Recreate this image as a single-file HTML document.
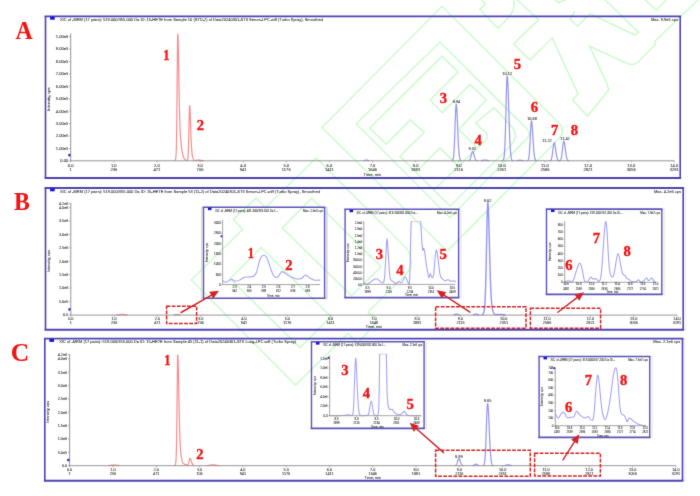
<!DOCTYPE html>
<html lang="en"><head><meta charset="utf-8"><title>XIC chromatograms A-C</title>
<style>html,body{margin:0;padding:0;background:#fff;}body{width:700px;height:496px;overflow:hidden;}svg{display:block;}text{white-space:pre;text-anchor:middle;}.s{font-family:"Liberation Sans",sans-serif;fill:#262626;stroke:#222;stroke-width:0.05px;}.b{font-family:"Liberation Serif",serif;font-weight:bold;fill:#f21313;stroke:#f21313;stroke-width:0.4px;}.st{text-anchor:start;}.en{text-anchor:end;}</style>
</head><body>
<svg width="700" height="496" viewBox="0 0 700 496" role="img" aria-label="XIC chromatograms, panels A, B and C">
<defs><filter id="soft" x="0" y="0" width="700" height="496" filterUnits="userSpaceOnUse" color-interpolation-filters="sRGB"><feConvolveMatrix order="3" kernelMatrix="0.02 0.065 0.02 0.065 0.66 0.065 0.02 0.065 0.02" divisor="1" edgeMode="duplicate" preserveAlpha="true"/></filter></defs>
<g filter="url(#soft)">
<rect x="0" y="0" width="700" height="496" fill="#ffffff"/>
<g fill="none" stroke="#cffacf" stroke-width="1.6" stroke-linejoin="miter" stroke-linecap="butt">
<path d="M447,251 L322,127.5 L442,6.3 L558.5,122.8 Q566.5,131 558.5,139.2 Z"/>
<path d="M450,217.7 L356.2,123.8 L440,42 L527,129 Q531.5,133.7 527,138.4 Z"/>
<polyline points="476.5,147 458.6,129.4 486.3,100 470,84.4 442.4,112.6 430,100 458,72 442,56.2 369.6,128.2 386.2,144.1 410.2,119.9 424.3,132.3 400,156.3 450,206.2"/>
<path d="M450,206.2 L509,147.2 Q519.5,136.5 512.5,127.5 L494.1,107.6 L475.6,123.2 L485.5,132.4 Q489.5,136.2 485.7,140.2 L433.8,190"/>
<polyline points="457.9,165.9 440,148 415.8,172.2"/>
<path d="M316.1,158 L265.5,207.5 L256,198.2 L233.4,219.4 L242.5,229.5 L191.3,280 L295.5,385 L347.9,333.6 L358,343 L377.3,321.2 L368,311.9 L405.5,275 Q416.5,263 406.5,248.4 Z"/>
<path d="M311.8,198.2 L381,266.8 L351.5,295.7 L282.1,227.9 Z"/>
<path d="M261.3,247.5 L330.9,316.7 L300,347.6 L230,278.8 Z"/>
<path d="M482,0 L485.4,4.3 L479.8,9.4 L498,28.3 L509,17 Q516,8 513.7,0"/>
<polyline points="517.1,0 538.6,19.7 513.7,43.7 530,60 552.2,37.8 578,93.8 572.5,100 587.5,116.2 608.7,90 607,83.8 589.5,46.2 625,62.5"/>
<path d="M625,62.5 Q632.5,66.5 637.5,62.5 L655,45 L655,41.2 L700,-2"/>
<polyline points="575,11.2 570,18.8 577.5,26.2 590,13.8 635,35 638.7,32.5 605,0"/>
<polyline points="645,0 656.2,10 666.2,0"/>
<polyline points="555,0 558.7,2.5 565,0"/>
</g>
<polyline points="174.97,160.56 175.22,160.27 175.47,159.67 175.72,158.51 175.75,158.31 175.97,156.24 176.22,151.75 176.35,147.88 176.47,142.92 176.72,126.91 176.95,104.43 176.97,102.16 177.22,71.89 177.47,45.46 177.55,39.75 177.7,34.26 177.72,34.04 177.97,35.62 178,36.34 178.15,41.12 178.22,43.93 178.47,56.24 178.72,70.67 178.75,72.46 178.97,85.39 179.22,98.94 179.35,105.23 179.47,110.5 179.72,119.78 179.95,126.46 179.97,126.96 180.22,132.43 180.47,136.65 180.55,137.79 180.72,139.98 180.97,142.74 181.15,144.47 181.22,145.09 181.47,147.16 181.72,148.99 181.75,149.2 181.97,150.63 182.22,152.09 182.35,152.79 182.47,153.39 182.5,153.54 182.72,154.53 182.95,155.44 182.97,155.51 183.22,156.34 183.47,157.05 183.55,157.25 183.72,157.64 183.97,158.13 184.15,158.44 184.22,158.55 184.47,158.89 184.72,159.18 184.75,159.22 184.97,159.43 185.22,159.64 185.35,159.73 185.47,159.81 185.53,159.85 185.72,159.96 185.78,160 185.95,160.08 185.97,160.09 186.03,160.12 186.22,160.19 186.28,160.21 186.47,160.27 186.53,160.28 186.55,160.28 186.72,160.29 186.78,160.29 186.9,160.27 186.97,160.25 187.03,160.22 187.15,160.14 187.22,160.07 187.28,159.99 187.4,159.8 187.47,159.64 187.53,159.48 187.65,159.07 187.72,158.75 187.75,158.6 187.78,158.43 187.9,157.6 187.97,156.98 188.03,156.35 188.15,154.77 188.22,153.62 188.28,152.47 188.35,150.93 188.4,149.68 188.53,145.84 188.65,141.51 188.78,136.02 188.9,130.39 188.95,127.95 189,125.49 189.03,124.02 189.15,118.3 189.28,112.82 189.4,108.89 189.53,106.32 189.55,106.09 189.6,105.75 189.65,105.65 189.78,106.13 189.8,106.3 189.9,107.47 190.03,109.66 190.15,112.27 190.2,113.49 190.28,115.59 190.4,118.97 190.53,122.83 190.65,126.44 190.75,129.41 190.78,130.28 190.8,130.86 190.9,133.67 191.03,137.09 191.15,139.98 191.28,142.8 191.35,144.17 191.4,145.1 191.53,147.28 191.65,149.04 191.78,150.68 191.9,151.99 191.95,152.48 192,152.94 192.03,153.21 192.15,154.19 192.28,155.1 192.4,155.84 192.53,156.53 192.55,156.63 192.6,156.87 192.65,157.1 192.78,157.63 192.9,158.06 193.03,158.47 193.15,158.8 193.2,158.93 193.28,159.11 193.4,159.36 193.53,159.59 193.65,159.77 193.75,159.9 193.78,159.93 193.8,159.96 194.03,160.17 194.28,160.33 194.4,160.38 194.53,160.42 194.78,160.47 195,160.48 195.03,160.48 195.28,160.47 195.53,160.44 195.6,160.43 195.78,160.41 196.03,160.36 196.2,160.33 196.28,160.31 196.53,160.26 196.78,160.22 196.8,160.21 197.4,160.13 198,160.1 198.6,160.11 199.2,160.15 199.8,160.22 200.4,160.29 201,160.38 201.6,160.46 202.2,160.54 202.8,160.61 203.4,160.66" fill="none" stroke="#f88c8c" stroke-width="1.2" stroke-linejoin="round" stroke-linecap="round" />
<polyline points="363.95,160.63 364.55,160.5 365.15,160.33 365.75,160.18 366.35,160.1 366.5,160.1 366.95,160.13 367.55,160.25 368.15,160.42 368.75,160.57" fill="none" stroke="#9494f2" stroke-width="1.2" stroke-linejoin="round" stroke-linecap="round" />
<polyline points="452.27,160.64 452.52,160.46 452.77,160.14 453.02,159.56 453.27,158.6 453.52,157.05 453.77,154.73 454.02,151.41 454.27,146.96 454.52,141.33 454.77,134.68 455.02,127.37 455.27,119.99 455.52,113.28 455.77,108.02 456.02,104.89 456.2,104.2 456.27,104.27 456.52,105.66 456.77,108.7 457.02,113.12 457.27,118.54 457.52,124.51 457.77,130.62 458.02,136.49 458.27,141.83 458.52,146.46 458.77,150.3 459.02,153.36 459.27,155.69 459.52,157.4 459.77,158.61 460.02,159.43 460.27,159.97 460.52,160.32 460.77,160.53 461.02,160.65" fill="none" stroke="#9494f2" stroke-width="1.2" stroke-linejoin="round" stroke-linecap="round" />
<polyline points="469,160.6 469.25,160.46 469.5,160.25 469.75,159.95 470,159.53 470.25,158.97 470.5,158.25 470.75,157.39 471,156.39 471.25,155.32 471.5,154.23 471.75,153.21 472,152.35 472.25,151.73 472.5,151.43 472.6,151.4 472.75,151.45 473,151.73 473.25,152.24 473.5,152.95 473.75,153.79 474,154.72 474.25,155.67 474.5,156.59 474.75,157.43 475,158.19 475.25,158.83 475.5,159.35 475.75,159.76 476,160.08 476.25,160.31 476.5,160.48 476.6,160.53 476.75,160.6 477,160.67" fill="none" stroke="#9494f2" stroke-width="1.2" stroke-linejoin="round" stroke-linecap="round" />
<polyline points="481.4,160.64 482,160.54 482.6,160.41 483.2,160.27 483.8,160.13 484.4,160.04 485,160 485.6,160.04 486.2,160.13 486.8,160.27 487.4,160.41 488,160.54 488.6,160.64" fill="none" stroke="#9494f2" stroke-width="1.2" stroke-linejoin="round" stroke-linecap="round" />
<polyline points="502.82,160.62 503.07,160.44 503.32,160.11 503.57,159.55 503.82,158.61 504.07,157.11 504.32,154.83 504.57,151.53 504.82,146.96 505.07,140.94 505.32,133.43 505.57,124.56 505.82,114.7 506.07,104.44 506.32,94.61 506.57,86.11 506.82,79.83 507.07,76.46 507.2,76 507.32,76.25 507.57,78.38 507.82,82.52 508.07,88.36 508.32,95.48 508.57,103.42 508.82,111.69 509.07,119.84 509.32,127.52 509.57,134.45 509.82,140.48 510.07,145.53 510.32,149.62 510.57,152.82 510.82,155.25 511,156.6 511.07,157.04 511.32,158.32 511.57,159.21 511.6,159.29 511.82,159.8 512.08,160.2 512.2,160.33 512.33,160.44 512.58,160.59 512.8,160.67" fill="none" stroke="#9494f2" stroke-width="1.2" stroke-linejoin="round" stroke-linecap="round" />
<polyline points="517,160.61 517.6,160.51 518.2,160.4 518.8,160.3 519.4,160.23 520,160.2 520.6,160.23 521.2,160.3 521.8,160.4 522.4,160.51 523,160.61" fill="none" stroke="#9494f2" stroke-width="1.2" stroke-linejoin="round" stroke-linecap="round" />
<polyline points="527.6,160.6 527.8,160.46 527.85,160.41 528.1,160.08 528.35,159.53 528.4,159.39 528.6,158.65 528.85,157.33 529.1,155.41 529.35,152.8 529.6,149.44 529.85,145.34 530.1,140.65 530.35,135.65 530.6,130.76 530.85,126.43 531.1,123.15 531.35,121.31 531.5,121 531.6,121.1 531.85,122.22 532.1,124.49 532.35,127.7 532.6,131.57 532.85,135.8 533.1,140.09 533.35,144.18 533.6,147.88 533.85,151.07 534.1,153.71 534.35,155.79 534.6,157.37 534.85,158.53 535.1,159.34 535.35,159.89 535.6,160.25 535.85,160.48 536.1,160.62" fill="none" stroke="#9494f2" stroke-width="1.2" stroke-linejoin="round" stroke-linecap="round" />
<polyline points="550.1,160.67 550.35,160.57 550.6,160.41 550.85,160.15 551.1,159.75 551.35,159.16 551.6,158.35 551.85,157.27 552.1,155.89 552.35,154.22 552.6,152.31 552.85,150.24 553.1,148.15 553.35,146.18 553.6,144.53 553.85,143.34 554.1,142.75 554.2,142.7 554.35,142.79 554.6,143.33 554.85,144.32 555.1,145.68 555.35,147.31 555.6,149.09 555.85,150.92 556.1,152.69 556.35,154.32 556.6,155.77 556.85,157 557.1,158.01 557.35,158.8 557.6,159.41 557.85,159.86 557.95,160 558.1,160.18 558.2,160.28 558.35,160.4 558.45,160.47 558.6,160.55 558.7,160.59 558.85,160.64 558.95,160.66" fill="none" stroke="#9494f2" stroke-width="1.2" stroke-linejoin="round" stroke-linecap="round" />
<polyline points="559.6,160.67 559.7,160.64 559.85,160.59 559.95,160.54 560.1,160.45 560.2,160.37 560.35,160.22 560.45,160.09 560.6,159.85 560.7,159.66 560.85,159.31 560.95,159.03 561.2,158.15 561.45,156.97 561.7,155.48 561.95,153.68 562.2,151.61 562.45,149.37 562.7,147.1 562.95,144.97 563.2,143.18 563.45,141.9 563.7,141.26 563.8,141.2 563.95,141.3 564.2,141.88 564.45,142.96 564.7,144.43 564.95,146.19 565.2,148.12 565.45,150.1 565.7,152.01 565.95,153.78 566.2,155.35 566.45,156.68 566.7,157.78 566.95,158.64 567.2,159.3 567.45,159.78 567.7,160.13 567.95,160.37 568.2,160.53 568.45,160.64" fill="none" stroke="#9494f2" stroke-width="1.2" stroke-linejoin="round" stroke-linecap="round" />
<polyline points="116.9,314.93 117.5,314.87 118.1,314.8 118.7,314.72 119.3,314.63 119.9,314.55 120.5,314.48 121.1,314.43 121.7,314.4 122,314.4 122.3,314.4 122.9,314.43 123.5,314.48 124.1,314.55 124.7,314.63 125.3,314.72 125.9,314.8 126.5,314.87 127.1,314.93" fill="none" stroke="#f88c8c" stroke-width="1.2" stroke-linejoin="round" stroke-linecap="round" />
<polyline points="174,314.91 174.6,314.81 175.2,314.7 175.8,314.6 176.4,314.53 177,314.5 177.6,314.53 178.2,314.6 178.8,314.7 179.4,314.81 180,314.91" fill="none" stroke="#f88c8c" stroke-width="1.2" stroke-linejoin="round" stroke-linecap="round" />
<polyline points="453.95,314.89 454.55,314.71 455.15,314.5 455.75,314.31 456.35,314.2 456.5,314.2 456.95,314.24 457.55,314.4 458.15,314.61 458.75,314.81 459.35,314.95" fill="none" stroke="#9494f2" stroke-width="1.4" stroke-linejoin="round" stroke-linecap="round" />
<polyline points="473.45,314.86 474.05,314.67 474.65,314.43 475.25,314.22 475.85,314.1 476,314.1 476.45,314.14 477.05,314.32 477.65,314.55 478.25,314.78 478.85,314.94" fill="none" stroke="#9494f2" stroke-width="1.4" stroke-linejoin="round" stroke-linecap="round" />
<polyline points="481.85,314.96 481.95,314.93 482.2,314.85 482.4,314.75 482.45,314.72 482.65,314.59 482.7,314.55 482.9,314.35 482.95,314.3 483.15,314.03 483.2,313.95 483.4,313.58 483.45,313.47 483.65,312.95 483.7,312.79 483.9,312.07 483.95,311.86 484.15,310.84 484.2,310.54 484.4,309.13 484.45,308.71 484.65,306.74 484.7,306.16 484.9,303.43 484.95,302.64 485.15,298.96 485.2,297.9 485.4,293.03 485.45,291.65 485.65,285.44 485.7,283.72 485.9,276.1 485.95,274.03 486.15,265.13 486.2,262.76 486.4,252.9 486.45,250.35 486.5,247.8 486.65,240.1 486.7,237.55 486.9,227.69 486.95,225.35 487.1,218.78 487.15,216.77 487.2,214.86 487.4,208.44 487.45,207.17 487.65,203.62 487.7,203.13 487.8,202.65 487.9,202.73 487.95,202.94 488,203.26 488.15,204.86 488.2,205.59 488.3,207.34 488.4,209.45 488.45,210.63 488.65,216.14 488.7,217.69 488.9,224.44 488.95,226.25 489.15,233.81 489.2,235.76 489.4,243.67 489.45,245.65 489.5,247.63 489.65,253.51 489.7,255.43 489.9,262.89 489.95,264.69 490.1,269.86 490.15,271.51 490.2,273.13 490.4,279.17 490.45,280.58 490.65,285.78 490.7,286.98 490.9,291.36 490.95,292.35 491.15,295.96 491.2,296.78 491.3,298.31 491.4,299.71 491.45,300.37 491.65,302.73 491.7,303.26 491.9,305.15 491.95,305.57 492.15,307.09 492.2,307.43 492.4,308.64 492.45,308.91 492.5,309.17 492.65,309.89 492.7,310.11 492.9,310.9 492.95,311.07 493.1,311.56 493.15,311.71 493.2,311.86 493.4,312.38 493.45,312.49 493.65,312.91 493.7,313.01 493.9,313.35 493.95,313.42 494.15,313.69 494.2,313.75 494.3,313.87 494.4,313.97 494.45,314.02 494.7,314.22 494.9,314.34 494.95,314.37 495.2,314.48 495.45,314.56 495.5,314.58 495.7,314.62 495.95,314.65 496.1,314.66 496.2,314.66 496.45,314.66 496.7,314.66 496.95,314.64 497.2,314.62 497.3,314.61 497.45,314.59 497.7,314.56 497.9,314.54 497.95,314.54 498.2,314.51 498.45,314.48 498.5,314.48 498.7,314.46 498.95,314.44 499.1,314.43 499.2,314.42 499.7,314.4 500,314.4 500.3,314.4 500.9,314.43 501.5,314.48 502.1,314.55 502.7,314.63 503.3,314.72 503.9,314.8 504.5,314.87 505.1,314.93" fill="none" stroke="#9494f2" stroke-width="1.4" stroke-linejoin="round" stroke-linecap="round" />
<path d="M222.64,280.69 C223.22,280.95 224.88,282.53 226.27,282.31 C227.66,282.08 229.86,279.44 231.31,279.28 C232.76,279.12 233.89,281.23 235.35,281.3 C236.8,281.36 238.94,280.33 240.39,279.69 C241.84,279.04 242.97,277.72 244.43,277.26 C245.88,276.81 248.02,277.02 249.47,276.86 C250.92,276.7 252.37,277 253.5,276.26 C254.63,275.51 255.56,274.74 256.53,272.22 C257.5,269.7 258.68,263.1 259.56,260.52 C260.43,257.94 261.27,256.92 261.98,256.08 C262.69,255.24 263.35,255.21 263.99,255.28 C264.64,255.34 265.37,255.65 266.01,256.49 C266.66,257.32 267.29,258.58 268.03,260.52 C268.77,262.46 269.81,266.27 270.65,268.59 C271.49,270.91 272.47,273.63 273.27,275.05 C274.08,276.47 274.92,277.21 275.69,277.47 C276.47,277.72 277.4,277.27 278.11,276.66 C278.82,276.05 279.49,274.44 280.13,273.63 C280.78,272.83 281.41,271.71 282.15,271.62 C282.89,271.52 283.87,272.48 284.77,273.03 C285.68,273.58 286.67,274.37 287.8,275.05 C288.93,275.72 290.54,276.68 291.83,277.26 C293.12,277.85 294.74,278.39 295.87,278.68 C297,278.97 297.93,279.14 298.89,279.08 C299.86,279.02 301.11,278.76 301.92,278.27 C302.73,277.79 303.36,276.57 303.94,276.05 C304.52,275.54 305,275.05 305.55,275.05 C306.1,275.05 306.66,275.57 307.37,276.05 C308.08,276.54 308.92,277.43 309.99,278.07 C311.05,278.72 312.89,279.73 314.02,280.09 C315.15,280.44 316.08,280.29 317.05,280.29 C318.02,280.29 319.59,280.12 320.08,280.09" fill="none" stroke="#a0a0f4" stroke-width="1.05" stroke-linejoin="round" stroke-linecap="round"/>
<line x1="411.26" y1="221.59" x2="420.74" y2="221.59" stroke="#e4c6e4" stroke-width="0.9"/>
<path d="M363.24,283.72 C364.05,283.72 366.83,284.2 368.29,283.72 C369.74,283.24 371.03,281.5 372.32,280.69 C373.61,279.89 375.06,278.52 376.36,278.68 C377.65,278.84 379.26,281.06 380.39,281.7 C381.52,282.35 382.74,283.52 383.42,282.71 C384.09,281.9 384.27,280.21 384.63,276.66 C384.98,273.11 385.34,265.68 385.64,260.52 C385.93,255.36 386.22,247.93 386.44,244.38 C386.67,240.83 386.85,238.33 387.05,238.33 C387.24,238.33 387.39,240.83 387.65,244.38 C387.91,247.93 388.34,255.68 388.66,260.52 C388.98,265.36 389.32,271.51 389.67,274.64 C390.03,277.77 390.27,278.96 390.88,280.09 C391.49,281.22 392.76,281.12 393.5,281.7 C394.25,282.28 394.71,283.72 395.52,283.72 C396.33,283.72 397.58,281.86 398.55,281.7 C399.51,281.54 400.77,283.13 401.57,282.71 C402.38,282.29 403.01,280.05 403.59,279.08 C404.17,278.11 404.69,276.56 405.2,276.66 C405.72,276.76 406.3,278.65 406.82,279.69 C407.33,280.72 408.01,282.63 408.43,283.11 C408.85,283.6 409.15,286.33 409.44,282.71 C409.73,279.1 410.02,268.59 410.25,260.52 C410.47,252.45 410.69,238.51 410.85,232.28 C411.01,226.05 411.19,223.3 411.26,221.59" fill="none" stroke="#a0a0f4" stroke-width="1.05" stroke-linejoin="round" stroke-linecap="round"/>
<path d="M420.74,221.59 C420.83,223.3 421.15,228.79 421.34,232.28 C421.54,235.76 421.72,240.47 421.95,243.37 C422.17,246.28 422.46,249.63 422.75,250.43 C423.05,251.24 423.44,248.03 423.76,248.42 C424.09,248.8 424.45,250.92 424.77,252.85 C425.09,254.79 425.43,258 425.78,260.52 C426.14,263.04 426.64,266.39 426.99,268.59 C427.35,270.78 427.68,272.79 428,274.24 C428.32,275.69 428.65,277.76 429.01,277.67 C429.36,277.57 429.83,273.86 430.22,273.63 C430.61,273.41 431.07,275.58 431.43,276.26 C431.78,276.93 432.08,278.06 432.44,277.87 C432.79,277.68 433.29,277.5 433.65,275.05 C434,272.59 434.33,266.09 434.66,262.54 C434.98,258.99 435.38,254.86 435.67,252.85 C435.96,250.85 436.18,249.84 436.47,250.03 C436.76,250.22 437.16,252.06 437.48,254.06 C437.8,256.07 438.13,259.57 438.49,262.54 C438.85,265.51 439.31,270.3 439.7,272.62 C440.09,274.95 440.46,276.03 440.91,277.06 C441.36,278.1 441.88,278.5 442.52,279.08 C443.17,279.66 444.07,280.6 444.95,280.69 C445.82,280.79 447,279.59 447.97,279.69 C448.94,279.78 450.03,281.14 451,281.3 C451.97,281.46 453.31,280.63 454.02,280.69 C454.73,280.76 455.21,281.54 455.44,281.7" fill="none" stroke="#a0a0f4" stroke-width="1.05" stroke-linejoin="round" stroke-linecap="round"/>
<path d="M564.66,281.7 C565.24,281.54 567.22,280.69 568.29,280.69 C569.35,280.69 570.51,281.77 571.31,281.7 C572.12,281.64 572.75,281.26 573.33,280.29 C573.91,279.32 574.39,277.36 574.94,275.65 C575.49,273.94 576.21,271.31 576.76,269.6 C577.31,267.89 577.89,266.02 578.37,264.96 C578.86,263.89 579.33,262.84 579.79,262.94 C580.24,263.04 580.75,264.18 581.2,265.56 C581.65,266.95 582.16,269.45 582.61,271.62 C583.06,273.78 583.57,277.47 584.02,279.08 C584.47,280.69 584.82,281.35 585.43,281.7 C586.05,282.06 587.21,281.78 587.85,281.3 C588.5,280.82 588.98,279.35 589.47,278.68 C589.95,278 590.4,277.06 590.88,277.06 C591.36,277.06 591.85,278.39 592.49,278.68 C593.14,278.97 594.24,278.81 594.92,278.88 C595.59,278.94 596.15,278.63 596.73,279.08 C597.31,279.53 598.03,281.51 598.55,281.7 C599.06,281.9 599.54,281.42 599.96,280.29 C600.38,279.16 600.78,277.81 601.17,274.64 C601.56,271.48 601.99,265.68 602.38,260.52 C602.77,255.36 603.2,247.69 603.59,242.36 C603.98,237.04 604.45,230.56 604.8,227.23 C605.16,223.91 605.49,221.42 605.81,221.59 C606.13,221.75 606.49,224.43 606.82,228.24 C607.14,232.05 607.5,239.9 607.83,245.39 C608.15,250.88 608.48,258.12 608.83,262.54 C609.19,266.96 609.59,270.77 610.05,273.03 C610.5,275.29 611.14,276.14 611.66,276.66 C612.18,277.18 612.79,277.22 613.27,276.26 C613.76,275.29 614.27,272.8 614.69,270.61 C615.1,268.41 615.51,264.86 615.9,262.54 C616.28,260.21 616.75,257.47 617.11,256.08 C617.46,254.69 617.76,253.73 618.11,253.86 C618.47,253.99 618.94,255.24 619.33,256.89 C619.71,258.54 620.12,261.8 620.54,264.15 C620.96,266.51 621.5,269.94 621.95,271.62 C622.4,273.29 622.84,274 623.36,274.64 C623.88,275.29 624.63,275.01 625.18,275.65 C625.72,276.3 626.21,278.13 626.79,278.68 C627.37,279.23 628.16,278.69 628.81,279.08 C629.45,279.47 630.02,280.68 630.82,281.1 C631.63,281.52 632.98,281.64 633.85,281.7 C634.72,281.77 635.53,281.82 636.27,281.5 C637.01,281.18 637.84,279.65 638.49,279.69 C639.14,279.72 639.69,281.38 640.31,281.7 C640.92,282.03 641.65,281.96 642.32,281.7 C643,281.44 643.86,280.73 644.54,280.09 C645.22,279.44 645.98,277.64 646.56,277.67 C647.14,277.7 647.62,279.94 648.17,280.29 C648.72,280.65 649.44,280.31 649.99,279.89 C650.54,279.47 651.09,277.64 651.6,277.67 C652.12,277.7 652.7,279.44 653.22,280.09 C653.73,280.73 654.38,281.38 654.83,281.7 C655.28,282.03 655.85,282.04 656.04,282.11" fill="none" stroke="#a0a0f4" stroke-width="1.05" stroke-linejoin="round" stroke-linecap="round"/>
<polyline points="108.9,465.53 109.5,465.47 110.1,465.4 110.7,465.32 111.3,465.23 111.9,465.15 112.5,465.08 113.1,465.03 113.7,465 114,465 114.3,465 114.9,465.03 115.5,465.08 116.1,465.15 116.7,465.23 117.3,465.32 117.9,465.4 118.5,465.47 119.1,465.53" fill="none" stroke="#f88c8c" stroke-width="1.2" stroke-linejoin="round" stroke-linecap="round" />
<polyline points="174.75,465.53 175,465.33 175.2,465.03 175.25,464.92 175.5,464.15 175.75,462.66 175.8,462.22 176,459.78 176.25,454.27 176.4,448.93 176.5,444.25 176.75,427.99 177,405.65 177.25,381.13 177.5,361.82 177.6,357.3 177.7,355.11 177.75,354.77 178,357.1 178.2,363.05 178.25,364.95 178.5,376.28 178.75,389.41 178.8,392.11 179,402.73 179.25,414.98 179.4,421.5 179.5,425.45 179.75,433.91 180,440.51 180.25,445.56 180.5,449.43 180.6,450.73 180.75,452.45 181,454.84 181.2,456.42 181.25,456.78 181.5,458.35 181.75,459.63 181.8,459.85 182,460.66 182.25,461.49 182.4,461.9 182.5,462.14 182.75,462.65 183,463.06 183.25,463.38 183.5,463.62 183.6,463.7 183.75,463.81 184,463.96 184.2,464.06 184.25,464.08 184.5,464.19 184.75,464.29 184.8,464.31 185,464.38 185.25,464.47 185.4,464.52 185.5,464.56 185.75,464.64 185.95,464.71 186,464.72 186.2,464.79 186.25,464.81 186.45,464.87 186.5,464.88 186.6,464.91 186.7,464.94 186.95,465 187.2,465.04 187.45,465.04 187.7,464.96 187.8,464.89 187.95,464.75 188.2,464.37 188.4,463.9 188.45,463.76 188.7,462.9 188.95,461.83 189,461.6 189.2,460.66 189.45,459.57 189.6,459.03 189.7,458.76 189.95,458.4 190,458.39 190.2,458.48 190.45,458.79 190.7,459.29 190.8,459.53 190.95,459.93 191.2,460.68 191.4,461.3 191.45,461.46 191.7,462.23 191.95,462.95 192,463.09 192.2,463.59 192.45,464.13 192.6,464.41 192.7,464.57 192.95,464.91 193.2,465.17 193.45,465.35 193.7,465.48 193.8,465.52 193.95,465.56" fill="none" stroke="#f88c8c" stroke-width="1.2" stroke-linejoin="round" stroke-linecap="round" />
<polyline points="207.3,465.57 207.9,465.51 208.5,465.44 209.1,465.36 209.7,465.26 210.3,465.17 210.9,465.07 211.5,464.99 212.1,464.94 212.7,464.9 213,464.9 213.3,464.9 213.9,464.94 214.5,464.99 215.1,465.07 215.7,465.17 216.3,465.26 216.9,465.36 217.5,465.44 218.1,465.51 218.7,465.57" fill="none" stroke="#f88c8c" stroke-width="1.2" stroke-linejoin="round" stroke-linecap="round" />
<polyline points="455.3,465.55 455.55,465.45 455.8,465.29 456.05,465.07 456.3,464.75 456.55,464.33 456.8,463.8 457.05,463.16 457.3,462.42 457.55,461.62 457.8,460.81 458.05,460.05 458.3,459.41 458.55,458.95 458.8,458.72 458.9,458.7 459.05,458.73 459.3,458.94 459.55,459.33 459.8,459.85 460.05,460.48 460.3,461.17 460.55,461.88 460.8,462.56 461.05,463.19 461.3,463.75 461.55,464.23 461.8,464.62 462.05,464.93 462.3,465.16 462.55,465.34 462.8,465.46 463.05,465.55" fill="none" stroke="#9494f2" stroke-width="1.2" stroke-linejoin="round" stroke-linecap="round" />
<polyline points="472.85,465.52 473.45,465.32 474.05,465.01 474.65,464.63 475.25,464.29 475.85,464.11 476,464.1 476.45,464.17 477.05,464.45 477.65,464.83 478.25,465.18 478.85,465.44" fill="none" stroke="#9494f2" stroke-width="1.2" stroke-linejoin="round" stroke-linecap="round" />
<polyline points="483.23,465.56 483.48,465.43 483.73,465.18 483.98,464.76 484.23,464.06 484.48,462.94 484.73,461.24 484.98,458.78 485.23,455.39 485.48,450.94 485.73,445.39 485.98,438.84 486.23,431.58 486.48,424.06 486.73,416.88 486.98,410.7 487.23,406.17 487.48,403.79 487.6,403.5 487.73,403.7 487.98,405.23 488.23,408.14 488.48,412.23 488.73,417.23 488.98,422.82 489.23,428.68 489.48,434.51 489.73,440.06 489.98,445.13 490.23,449.59 490.48,453.39 490.73,456.52 490.98,459.02 491.23,460.96 491.48,462.41 491.73,463.48 491.98,464.23 492.23,464.75 492.48,465.11 492.73,465.34 492.98,465.48 493.23,465.57" fill="none" stroke="#9494f2" stroke-width="1.2" stroke-linejoin="round" stroke-linecap="round" />
<polyline points="504.4,465.52 505,465.41 505.6,465.26 506.2,465.1 506.8,464.95 507.4,464.84 508,464.8 508.6,464.84 509.2,464.95 509.8,465.1 510.4,465.26 511,465.41 511.6,465.52" fill="none" stroke="#9494f2" stroke-width="1.2" stroke-linejoin="round" stroke-linecap="round" />
<line x1="379.69" y1="354.16" x2="386.34" y2="354.16" stroke="#e4c6e4" stroke-width="0.9"/>
<path d="M329.66,415.69 C331.37,415.69 337.35,415.82 340.35,415.69 C343.35,415.56 346.54,414.92 348.42,414.89 C350.29,414.85 351.27,416.01 352.05,415.49 C352.82,414.98 352.94,414.85 353.26,411.66 C353.58,408.46 353.81,401.98 354.06,395.52 C354.32,389.06 354.61,377.28 354.87,371.31 C355.13,365.34 355.42,358.52 355.68,358.2 C355.94,357.88 356.23,364.61 356.49,369.29 C356.74,373.98 357,381.64 357.29,387.45 C357.58,393.26 357.98,401.41 358.3,405.61 C358.62,409.8 358.89,412.06 359.31,413.68 C359.73,415.29 359.92,415.44 360.92,415.69 C361.92,415.95 364.4,415.42 365.56,415.29 C366.73,415.16 367.61,415.53 368.19,414.89 C368.77,414.24 368.87,412.9 369.2,411.26 C369.52,409.61 369.88,406.24 370.2,404.6 C370.53,402.95 370.89,400.97 371.21,400.97 C371.54,400.97 371.9,402.89 372.22,404.6 C372.54,406.31 372.87,410.01 373.23,411.66 C373.58,413.31 373.73,414.27 374.44,414.89 C375.15,415.5 376.99,416.33 377.67,415.49 C378.35,414.65 378.42,414.45 378.68,409.64 C378.93,404.83 379.12,394.31 379.28,385.43 C379.44,376.56 379.62,359.17 379.69,354.16" fill="none" stroke="#a0a0f4" stroke-width="1.05" stroke-linejoin="round" stroke-linecap="round"/>
<path d="M386.34,354.16 C386.41,357.55 386.62,369.05 386.75,375.35 C386.88,381.64 386.96,388.82 387.15,393.5 C387.34,398.18 387.63,402.15 387.96,404.6 C388.28,407.05 388.71,408.03 389.17,408.83 C389.62,409.64 390.3,409.58 390.78,409.64 C391.26,409.71 391.71,408.92 392.19,409.24 C392.68,409.56 393.23,410.95 393.81,411.66 C394.39,412.37 395.18,413.26 395.82,413.68 C396.47,414.1 397.2,414.12 397.84,414.28 C398.49,414.44 399.21,414.78 399.86,414.69 C400.5,414.59 401.33,414.13 401.88,413.68 C402.42,413.22 402.9,412.25 403.29,411.86 C403.68,411.47 403.94,411.09 404.3,411.26 C404.65,411.42 405.09,412.29 405.51,412.87 C405.93,413.45 406.21,414.44 406.92,414.89 C407.63,415.34 407.69,415.56 409.95,415.69 C412.2,415.82 419.27,415.69 421.04,415.69" fill="none" stroke="#a0a0f4" stroke-width="1.05" stroke-linejoin="round" stroke-linecap="round"/>
<path d="M555.26,413.56 C555.52,414.05 556.39,415.85 556.87,416.59 C557.36,417.33 557.83,418.27 558.29,418.2 C558.74,418.14 559.21,416.93 559.7,416.19 C560.18,415.44 560.73,414.21 561.31,413.56 C561.89,412.92 562.75,412.09 563.33,412.15 C563.91,412.22 564.43,413.19 564.94,413.97 C565.46,414.74 566.07,416.35 566.56,416.99 C567.04,417.64 567.45,417.91 567.97,418 C568.49,418.1 569.17,417.73 569.79,417.6 C570.4,417.47 571.12,417.36 571.8,417.2 C572.48,417.03 573.47,417.17 574.02,416.59 C574.57,416.01 574.81,414.4 575.23,413.56 C575.65,412.72 576.19,411.51 576.64,411.34 C577.1,411.18 577.54,411.97 578.06,412.56 C578.57,413.14 579.26,414.36 579.87,414.98 C580.49,415.59 581.24,415.97 581.89,416.39 C582.53,416.81 583.29,417.34 583.91,417.6 C584.52,417.86 585.17,418.13 585.72,418 C586.27,417.87 586.88,417.02 587.34,416.79 C587.79,416.57 588.13,416.23 588.55,416.59 C588.97,416.94 589.47,418.43 589.96,419.01 C590.44,419.59 591.06,420.22 591.57,420.22 C592.09,420.22 592.77,420.4 593.19,419.01 C593.61,417.62 593.87,414.84 594.2,411.55 C594.52,408.25 594.88,402.63 595.2,398.43 C595.53,394.24 595.89,388.81 596.21,385.32 C596.54,381.83 596.96,378.26 597.22,376.65 C597.48,375.03 597.6,374.98 597.83,375.23 C598.05,375.49 598.34,376.32 598.63,378.26 C598.92,380.2 599.29,383.79 599.64,387.34 C600,390.89 600.43,396.58 600.85,400.45 C601.27,404.32 601.81,408.87 602.26,411.55 C602.72,414.23 603.22,415.9 603.68,417.2 C604.13,418.49 604.67,419.55 605.09,419.62 C605.51,419.68 605.88,418.73 606.3,417.6 C606.72,416.47 607.26,414.49 607.71,412.56 C608.16,410.62 608.67,408.08 609.12,405.49 C609.58,402.91 610.08,399.64 610.54,396.42 C610.99,393.19 611.5,388.71 611.95,385.32 C612.4,381.93 612.91,377.82 613.36,375.23 C613.81,372.65 614.35,370.38 614.77,369.18 C615.19,367.99 615.63,367.45 615.98,367.77 C616.34,368.09 616.67,369.04 616.99,371.2 C617.31,373.36 617.68,377.41 618,381.29 C618.32,385.16 618.69,391.21 619.01,395.41 C619.33,399.6 619.66,404.61 620.02,407.51 C620.37,410.42 620.81,412.43 621.23,413.56 C621.65,414.69 622.19,414.28 622.64,414.57 C623.09,414.86 623.6,414.9 624.05,415.38 C624.5,415.86 625.04,416.69 625.46,417.6 C625.88,418.5 626.35,420.38 626.67,421.03 C627,421.67 627.19,421.96 627.48,421.63 C627.77,421.31 628.17,419.59 628.49,419.01 C628.81,418.43 629.08,418 629.5,418 C629.92,418 630.56,418.56 631.11,419.01 C631.66,419.46 632.31,420.31 632.93,420.83 C633.54,421.34 634.14,421.72 634.95,422.24 C635.75,422.75 636.84,423.57 637.97,424.05 C639.1,424.54 640.81,425.01 642.01,425.26 C643.2,425.52 644.89,425.6 645.44,425.67" fill="none" stroke="#a0a0f4" stroke-width="1.05" stroke-linejoin="round" stroke-linecap="round"/>
<path d="M45.5,16.4 H680.2 M45.5,178 H680.2" fill="none" stroke="#4c44b4" stroke-width="1.9" stroke-linecap="square"/>
<path d="M45.5,16.4 V178 M680.2,16.4 V178" fill="none" stroke="#4c44b4" stroke-width="1.5999999999999999"/>
<rect x="50.1" y="16.7" width="4.6" height="3" fill="#1a12d6" stroke="#1a12d6" stroke-width="0" />
<text class="s st" x="59.9" y="21" font-size="4.0" fill="#2a2a2a" textLength="263" lengthAdjust="spacingAndGlyphs">XIC of -MRM (17 pairs): 519.000/355.000 Da ID: 15-HETE from Sample 10 (STD-2) of Data20240301-STII Serum-LPC.wiff (Turbo Spray), Smoothed</text>
<text class="s en" x="678" y="21" font-size="4.0" fill="#2a2a2a">Max. 9.9e5 cps</text>
<line x1="70.7" y1="33.5" x2="70.7" y2="161.2" stroke="#8a8a8a" stroke-width="0.9" />
<line x1="70.3" y1="160.8" x2="674.3" y2="160.8" stroke="#8a8a8a" stroke-width="0.9" />
<line x1="70.7" y1="160.8" x2="70.7" y2="162.4" stroke="#8a8a8a" stroke-width="0.6" />
<text class="s" x="70.7" y="166.6" font-size="4.1">0.0</text>
<text class="s" x="70.7" y="171" font-size="4.1">1</text>
<line x1="113.81" y1="160.8" x2="113.81" y2="162.4" stroke="#8a8a8a" stroke-width="0.6" />
<text class="s" x="113.81" y="166.6" font-size="4.1">1.0</text>
<text class="s" x="113.81" y="171" font-size="4.1">236</text>
<line x1="156.93" y1="160.8" x2="156.93" y2="162.4" stroke="#8a8a8a" stroke-width="0.6" />
<text class="s" x="156.93" y="166.6" font-size="4.1">2.0</text>
<text class="s" x="156.93" y="171" font-size="4.1">471</text>
<line x1="200.04" y1="160.8" x2="200.04" y2="162.4" stroke="#8a8a8a" stroke-width="0.6" />
<text class="s" x="200.04" y="166.6" font-size="4.1">3.0</text>
<text class="s" x="200.04" y="171" font-size="4.1">706</text>
<line x1="243.16" y1="160.8" x2="243.16" y2="162.4" stroke="#8a8a8a" stroke-width="0.6" />
<text class="s" x="243.16" y="166.6" font-size="4.1">4.0</text>
<text class="s" x="243.16" y="171" font-size="4.1">941</text>
<line x1="286.27" y1="160.8" x2="286.27" y2="162.4" stroke="#8a8a8a" stroke-width="0.6" />
<text class="s" x="286.27" y="166.6" font-size="4.1">5.0</text>
<text class="s" x="286.27" y="171" font-size="4.1">1176</text>
<line x1="329.39" y1="160.8" x2="329.39" y2="162.4" stroke="#8a8a8a" stroke-width="0.6" />
<text class="s" x="329.39" y="166.6" font-size="4.1">6.0</text>
<text class="s" x="329.39" y="171" font-size="4.1">1411</text>
<line x1="372.5" y1="160.8" x2="372.5" y2="162.4" stroke="#8a8a8a" stroke-width="0.6" />
<text class="s" x="372.5" y="166.6" font-size="4.1">7.0</text>
<text class="s" x="372.5" y="171" font-size="4.1">1646</text>
<line x1="415.61" y1="160.8" x2="415.61" y2="162.4" stroke="#8a8a8a" stroke-width="0.6" />
<text class="s" x="415.61" y="166.6" font-size="4.1">8.0</text>
<text class="s" x="415.61" y="171" font-size="4.1">1881</text>
<line x1="458.73" y1="160.8" x2="458.73" y2="162.4" stroke="#8a8a8a" stroke-width="0.6" />
<text class="s" x="458.73" y="166.6" font-size="4.1">9.0</text>
<text class="s" x="458.73" y="171" font-size="4.1">2116</text>
<line x1="501.84" y1="160.8" x2="501.84" y2="162.4" stroke="#8a8a8a" stroke-width="0.6" />
<text class="s" x="501.84" y="166.6" font-size="4.1">10.0</text>
<text class="s" x="501.84" y="171" font-size="4.1">2351</text>
<line x1="544.96" y1="160.8" x2="544.96" y2="162.4" stroke="#8a8a8a" stroke-width="0.6" />
<text class="s" x="544.96" y="166.6" font-size="4.1">11.0</text>
<text class="s" x="544.96" y="171" font-size="4.1">2586</text>
<line x1="588.07" y1="160.8" x2="588.07" y2="162.4" stroke="#8a8a8a" stroke-width="0.6" />
<text class="s" x="588.07" y="166.6" font-size="4.1">12.0</text>
<text class="s" x="588.07" y="171" font-size="4.1">2821</text>
<line x1="631.19" y1="160.8" x2="631.19" y2="162.4" stroke="#8a8a8a" stroke-width="0.6" />
<text class="s" x="631.19" y="166.6" font-size="4.1">13.0</text>
<text class="s" x="631.19" y="171" font-size="4.1">3056</text>
<line x1="674.3" y1="160.8" x2="674.3" y2="162.4" stroke="#8a8a8a" stroke-width="0.6" />
<text class="s" x="674.3" y="166.6" font-size="4.1">14.0</text>
<text class="s" x="674.3" y="171" font-size="4.1">3291</text>
<text class="s" x="372.5" y="176.2" font-size="4.1">Time, min</text>
<line x1="69.1" y1="160.8" x2="70.7" y2="160.8" stroke="#8a8a8a" stroke-width="0.6" />
<text class="s en" x="68.3" y="162.2" font-size="4.1">0.00</text>
<line x1="69.1" y1="148.38" x2="70.7" y2="148.38" stroke="#8a8a8a" stroke-width="0.6" />
<text class="s en" x="68.3" y="149.78" font-size="4.1">1.00e5</text>
<line x1="69.1" y1="135.96" x2="70.7" y2="135.96" stroke="#8a8a8a" stroke-width="0.6" />
<text class="s en" x="68.3" y="137.36" font-size="4.1">2.00e5</text>
<line x1="69.1" y1="123.54" x2="70.7" y2="123.54" stroke="#8a8a8a" stroke-width="0.6" />
<text class="s en" x="68.3" y="124.94" font-size="4.1">3.00e5</text>
<line x1="69.1" y1="111.12" x2="70.7" y2="111.12" stroke="#8a8a8a" stroke-width="0.6" />
<text class="s en" x="68.3" y="112.52" font-size="4.1">4.00e5</text>
<line x1="69.1" y1="98.7" x2="70.7" y2="98.7" stroke="#8a8a8a" stroke-width="0.6" />
<text class="s en" x="68.3" y="100.1" font-size="4.1">5.00e5</text>
<line x1="69.1" y1="86.28" x2="70.7" y2="86.28" stroke="#8a8a8a" stroke-width="0.6" />
<text class="s en" x="68.3" y="87.68" font-size="4.1">6.00e5</text>
<line x1="69.1" y1="73.86" x2="70.7" y2="73.86" stroke="#8a8a8a" stroke-width="0.6" />
<text class="s en" x="68.3" y="75.26" font-size="4.1">7.00e5</text>
<line x1="69.1" y1="61.44" x2="70.7" y2="61.44" stroke="#8a8a8a" stroke-width="0.6" />
<text class="s en" x="68.3" y="62.84" font-size="4.1">8.00e5</text>
<line x1="69.1" y1="49.02" x2="70.7" y2="49.02" stroke="#8a8a8a" stroke-width="0.6" />
<text class="s en" x="68.3" y="50.42" font-size="4.1">9.00e5</text>
<line x1="69.1" y1="36.6" x2="70.7" y2="36.6" stroke="#8a8a8a" stroke-width="0.6" />
<text class="s en" x="68.3" y="38" font-size="4.1">1.00e6</text>
<text class="s" x="50.1" y="99.15" font-size="4.1" transform="rotate(-90 50.1 99.15)">Intensity, cps</text>
<rect x="68.3" y="153.9" width="2.1" height="2.4" fill="#2a22c0" stroke="#2a22c0" stroke-width="0" />
<text class="s" x="456.5" y="103" font-size="3.9" fill="#000000">8.94</text>
<text class="s" x="472.2" y="150.3" font-size="3.9" fill="#000000">9.32</text>
<text class="s" x="507.2" y="74.8" font-size="3.9" fill="#000000">10.12</text>
<text class="s" x="532" y="119.7" font-size="3.9" fill="#000000">10.68</text>
<text class="s" x="547" y="141.8" font-size="3.9" fill="#000000">11.22</text>
<text class="s" x="565" y="140.1" font-size="3.9" fill="#000000">11.42</text>
<line x1="685.6" y1="187.5" x2="685.6" y2="330.7" stroke="#ececec" stroke-width="1.0" />
<path d="M45.5,188 H683.2 M45.5,329.7 H683.2" fill="none" stroke="#4c44b4" stroke-width="1.9" stroke-linecap="square"/>
<path d="M45.5,188 V329.7 M683.2,188 V329.7" fill="none" stroke="#4c44b4" stroke-width="1.5999999999999999"/>
<rect x="50.1" y="188.3" width="4.6" height="3" fill="#1a12d6" stroke="#1a12d6" stroke-width="0" />
<text class="s st" x="59.9" y="192.6" font-size="4.0" fill="#2a2a2a" textLength="260" lengthAdjust="spacingAndGlyphs">XIC of -MRM (17 pairs): 519.000/355.000 Da ID: 15-HETE from Sample 53 (11-2) of Data20240301-STII Serum-LPC.wiff (Turbo Spray), Smoothed</text>
<text class="s en" x="681" y="192.6" font-size="4.0" fill="#2a2a2a">Max. 4.2e6 cps</text>
<line x1="70.8" y1="203" x2="70.8" y2="315.5" stroke="#8a8a8a" stroke-width="0.9" />
<line x1="70.4" y1="315.1" x2="677" y2="315.1" stroke="#8a8a8a" stroke-width="0.9" />
<line x1="70.8" y1="315.1" x2="70.8" y2="316.7" stroke="#8a8a8a" stroke-width="0.6" />
<text class="s" x="70.8" y="320" font-size="3.8">0.0</text>
<text class="s" x="70.8" y="324" font-size="3.8">1</text>
<line x1="114.1" y1="315.1" x2="114.1" y2="316.7" stroke="#8a8a8a" stroke-width="0.6" />
<text class="s" x="114.1" y="320" font-size="3.8">1.0</text>
<text class="s" x="114.1" y="324" font-size="3.8">236</text>
<line x1="157.4" y1="315.1" x2="157.4" y2="316.7" stroke="#8a8a8a" stroke-width="0.6" />
<text class="s" x="157.4" y="320" font-size="3.8">2.0</text>
<text class="s" x="157.4" y="324" font-size="3.8">471</text>
<line x1="200.7" y1="315.1" x2="200.7" y2="316.7" stroke="#8a8a8a" stroke-width="0.6" />
<text class="s" x="200.7" y="320" font-size="3.8">3.0</text>
<text class="s" x="200.7" y="324" font-size="3.8">706</text>
<line x1="244" y1="315.1" x2="244" y2="316.7" stroke="#8a8a8a" stroke-width="0.6" />
<text class="s" x="244" y="320" font-size="3.8">4.0</text>
<text class="s" x="244" y="324" font-size="3.8">941</text>
<line x1="287.3" y1="315.1" x2="287.3" y2="316.7" stroke="#8a8a8a" stroke-width="0.6" />
<text class="s" x="287.3" y="320" font-size="3.8">5.0</text>
<text class="s" x="287.3" y="324" font-size="3.8">1176</text>
<line x1="330.6" y1="315.1" x2="330.6" y2="316.7" stroke="#8a8a8a" stroke-width="0.6" />
<text class="s" x="330.6" y="320" font-size="3.8">6.0</text>
<text class="s" x="330.6" y="324" font-size="3.8">1411</text>
<line x1="373.9" y1="315.1" x2="373.9" y2="316.7" stroke="#8a8a8a" stroke-width="0.6" />
<text class="s" x="373.9" y="320" font-size="3.8">7.0</text>
<text class="s" x="373.9" y="324" font-size="3.8">1646</text>
<line x1="417.2" y1="315.1" x2="417.2" y2="316.7" stroke="#8a8a8a" stroke-width="0.6" />
<text class="s" x="417.2" y="320" font-size="3.8">8.0</text>
<text class="s" x="417.2" y="324" font-size="3.8">1881</text>
<line x1="460.5" y1="315.1" x2="460.5" y2="316.7" stroke="#8a8a8a" stroke-width="0.6" />
<text class="s" x="460.5" y="320" font-size="3.8">9.0</text>
<text class="s" x="460.5" y="324" font-size="3.8">2116</text>
<line x1="503.8" y1="315.1" x2="503.8" y2="316.7" stroke="#8a8a8a" stroke-width="0.6" />
<text class="s" x="503.8" y="320" font-size="3.8">10.0</text>
<text class="s" x="503.8" y="324" font-size="3.8">2351</text>
<line x1="547.1" y1="315.1" x2="547.1" y2="316.7" stroke="#8a8a8a" stroke-width="0.6" />
<text class="s" x="547.1" y="320" font-size="3.8">11.0</text>
<text class="s" x="547.1" y="324" font-size="3.8">2586</text>
<line x1="590.4" y1="315.1" x2="590.4" y2="316.7" stroke="#8a8a8a" stroke-width="0.6" />
<text class="s" x="590.4" y="320" font-size="3.8">12.0</text>
<text class="s" x="590.4" y="324" font-size="3.8">2821</text>
<line x1="633.7" y1="315.1" x2="633.7" y2="316.7" stroke="#8a8a8a" stroke-width="0.6" />
<text class="s" x="633.7" y="320" font-size="3.8">13.0</text>
<text class="s" x="633.7" y="324" font-size="3.8">3056</text>
<line x1="677" y1="315.1" x2="677" y2="316.7" stroke="#8a8a8a" stroke-width="0.6" />
<text class="s" x="677" y="320" font-size="3.8">14.0</text>
<text class="s" x="677" y="324" font-size="3.8">3291</text>
<text class="s" x="373.9" y="328.2" font-size="3.8">Time, min</text>
<line x1="69.2" y1="314.8" x2="70.8" y2="314.8" stroke="#8a8a8a" stroke-width="0.6" />
<text class="s en" x="68.4" y="316.2" font-size="3.8">0.0</text>
<line x1="69.2" y1="301.4" x2="70.8" y2="301.4" stroke="#8a8a8a" stroke-width="0.6" />
<text class="s en" x="68.4" y="302.8" font-size="3.8">5.0e5</text>
<line x1="69.2" y1="288" x2="70.8" y2="288" stroke="#8a8a8a" stroke-width="0.6" />
<text class="s en" x="68.4" y="289.4" font-size="3.8">1.0e6</text>
<line x1="69.2" y1="274.6" x2="70.8" y2="274.6" stroke="#8a8a8a" stroke-width="0.6" />
<text class="s en" x="68.4" y="276" font-size="3.8">1.5e6</text>
<line x1="69.2" y1="261.2" x2="70.8" y2="261.2" stroke="#8a8a8a" stroke-width="0.6" />
<text class="s en" x="68.4" y="262.6" font-size="3.8">2.0e6</text>
<line x1="69.2" y1="247.8" x2="70.8" y2="247.8" stroke="#8a8a8a" stroke-width="0.6" />
<text class="s en" x="68.4" y="249.2" font-size="3.8">2.5e6</text>
<line x1="69.2" y1="234.4" x2="70.8" y2="234.4" stroke="#8a8a8a" stroke-width="0.6" />
<text class="s en" x="68.4" y="235.8" font-size="3.8">3.0e6</text>
<line x1="69.2" y1="221" x2="70.8" y2="221" stroke="#8a8a8a" stroke-width="0.6" />
<text class="s en" x="68.4" y="222.4" font-size="3.8">3.5e6</text>
<line x1="69.2" y1="207.6" x2="70.8" y2="207.6" stroke="#8a8a8a" stroke-width="0.6" />
<text class="s en" x="68.4" y="209" font-size="3.8">4.0e6</text>
<line x1="69.2" y1="203.2" x2="70.8" y2="203.2" stroke="#8a8a8a" stroke-width="0.6" />
<text class="s en" x="68.4" y="204.6" font-size="3.8">4.2e6</text>
<text class="s" x="50.1" y="261.05" font-size="3.8" transform="rotate(-90 50.1 261.05)">Intensity, cps</text>
<rect x="68.4" y="308.2" width="2.1" height="2.4" fill="#2a22c0" stroke="#2a22c0" stroke-width="0" />
<text class="s" x="487.6" y="201.6" font-size="3.9" fill="#000000">9.62</text>
<line x1="326.9" y1="206.7" x2="326.9" y2="299.3" stroke="#cccccc" stroke-width="1.2" />
<line x1="201.6" y1="206.7" x2="201.6" y2="299.3" stroke="#d6d6d6" stroke-width="1.0" />
<path d="M203.5,207.2 H324.6 M203.5,298.3 H324.6" fill="none" stroke="#5a53ba" stroke-width="1.6" stroke-linecap="square"/>
<path d="M203.5,207.2 V298.3 M324.6,207.2 V298.3" fill="none" stroke="#5a53ba" stroke-width="1.4000000000000001"/>
<rect x="207.9" y="207.6" width="3.6" height="2.5" fill="#1a12d6" stroke="#1a12d6" stroke-width="0" />
<text class="s st" x="215" y="211.7" font-size="2.95" fill="#303030">XIC of -MRM (17 pairs): 481.300/319.100 Da f...</text>
<text class="s en" x="323" y="211.7" font-size="2.95" fill="#303030">Max. 1.5e3 cps</text>
<line x1="222.6" y1="220" x2="222.6" y2="285" stroke="#9c9c9c" stroke-width="0.9" />
<line x1="222.2" y1="284.6" x2="320" y2="284.6" stroke="#9c9c9c" stroke-width="0.9" />
<line x1="221.2" y1="284.7" x2="222.6" y2="284.7" stroke="#9c9c9c" stroke-width="0.6" />
<text class="s en" x="220.6" y="285.8" font-size="2.95" fill="#3a3a3a">0</text>
<line x1="221.2" y1="274.4" x2="222.6" y2="274.4" stroke="#9c9c9c" stroke-width="0.6" />
<text class="s en" x="220.6" y="275.5" font-size="2.95" fill="#3a3a3a">500</text>
<line x1="221.2" y1="264.1" x2="222.6" y2="264.1" stroke="#9c9c9c" stroke-width="0.6" />
<text class="s en" x="220.6" y="265.2" font-size="2.95" fill="#3a3a3a">1000</text>
<line x1="221.2" y1="253.8" x2="222.6" y2="253.8" stroke="#9c9c9c" stroke-width="0.6" />
<text class="s en" x="220.6" y="254.9" font-size="2.95" fill="#3a3a3a">1500</text>
<line x1="221.2" y1="243.5" x2="222.6" y2="243.5" stroke="#9c9c9c" stroke-width="0.6" />
<text class="s en" x="220.6" y="244.6" font-size="2.95" fill="#3a3a3a">2000</text>
<line x1="221.2" y1="233.2" x2="222.6" y2="233.2" stroke="#9c9c9c" stroke-width="0.6" />
<text class="s en" x="220.6" y="234.3" font-size="2.95" fill="#3a3a3a">2500</text>
<line x1="221.2" y1="222.9" x2="222.6" y2="222.9" stroke="#9c9c9c" stroke-width="0.6" />
<text class="s en" x="220.6" y="224" font-size="2.95" fill="#3a3a3a">3000</text>
<line x1="234.6" y1="284.6" x2="234.6" y2="285.9" stroke="#9c9c9c" stroke-width="0.6" />
<text class="s" x="234.6" y="288.2" font-size="2.95" fill="#3a3a3a">2.3</text>
<text class="s" x="234.6" y="292" font-size="2.95" fill="#3a3a3a">542</text>
<line x1="249.2" y1="284.6" x2="249.2" y2="285.9" stroke="#9c9c9c" stroke-width="0.6" />
<text class="s" x="249.2" y="288.2" font-size="2.95" fill="#3a3a3a">2.4</text>
<text class="s" x="249.2" y="292" font-size="2.95" fill="#3a3a3a">565</text>
<line x1="263.8" y1="284.6" x2="263.8" y2="285.9" stroke="#9c9c9c" stroke-width="0.6" />
<text class="s" x="263.8" y="288.2" font-size="2.95" fill="#3a3a3a">2.5</text>
<text class="s" x="263.8" y="292" font-size="2.95" fill="#3a3a3a">589</text>
<line x1="278.4" y1="284.6" x2="278.4" y2="285.9" stroke="#9c9c9c" stroke-width="0.6" />
<text class="s" x="278.4" y="288.2" font-size="2.95" fill="#3a3a3a">2.6</text>
<text class="s" x="278.4" y="292" font-size="2.95" fill="#3a3a3a">612</text>
<line x1="293" y1="284.6" x2="293" y2="285.9" stroke="#9c9c9c" stroke-width="0.6" />
<text class="s" x="293" y="288.2" font-size="2.95" fill="#3a3a3a">2.7</text>
<text class="s" x="293" y="292" font-size="2.95" fill="#3a3a3a">636</text>
<line x1="307.6" y1="284.6" x2="307.6" y2="285.9" stroke="#9c9c9c" stroke-width="0.6" />
<text class="s" x="307.6" y="288.2" font-size="2.95" fill="#3a3a3a">2.8</text>
<text class="s" x="307.6" y="292" font-size="2.95" fill="#3a3a3a">659</text>
<text class="s" x="273.3" y="297" font-size="2.95" fill="#3a3a3a">Time, min</text>
<text class="s" x="207.9" y="252.3" font-size="3.3" transform="rotate(-90 207.9 252.3)">Intensity, cps</text>
<rect x="220.6" y="235.3" width="1.7" height="2" fill="#2a22c0" stroke="#2a22c0" stroke-width="0" />
<line x1="460.9" y1="208.8" x2="460.9" y2="298.6" stroke="#e2e2e2" stroke-width="1.0" />
<path d="M345.1,209.3 H458.6 M345.1,297.6 H458.6" fill="none" stroke="#5a53ba" stroke-width="1.6" stroke-linecap="square"/>
<path d="M345.1,209.3 V297.6 M458.6,209.3 V297.6" fill="none" stroke="#5a53ba" stroke-width="1.4000000000000001"/>
<rect x="349.5" y="209.7" width="3.6" height="2.5" fill="#1a12d6" stroke="#1a12d6" stroke-width="0" />
<text class="s st" x="356.6" y="213.8" font-size="2.95" fill="#303030">XIC of -MRM (17 pairs): 319.100/301.000 Da...</text>
<text class="s en" x="457" y="213.8" font-size="2.95" fill="#303030">Max. 4.2e6 cps</text>
<line x1="363.8" y1="221.2" x2="363.8" y2="284.8" stroke="#9c9c9c" stroke-width="0.9" />
<line x1="363.4" y1="284.4" x2="455.4" y2="284.4" stroke="#9c9c9c" stroke-width="0.9" />
<line x1="362.4" y1="285" x2="363.8" y2="285" stroke="#9c9c9c" stroke-width="0.6" />
<text class="s en" x="361.8" y="286.1" font-size="2.8" fill="#3a3a3a">0.0</text>
<line x1="362.4" y1="278.8" x2="363.8" y2="278.8" stroke="#9c9c9c" stroke-width="0.6" />
<text class="s en" x="361.8" y="279.9" font-size="2.8" fill="#3a3a3a">2000.0</text>
<line x1="362.4" y1="272.6" x2="363.8" y2="272.6" stroke="#9c9c9c" stroke-width="0.6" />
<text class="s en" x="361.8" y="273.7" font-size="2.8" fill="#3a3a3a">4000.0</text>
<line x1="362.4" y1="266.4" x2="363.8" y2="266.4" stroke="#9c9c9c" stroke-width="0.6" />
<text class="s en" x="361.8" y="267.5" font-size="2.8" fill="#3a3a3a">6000.0</text>
<line x1="362.4" y1="260.2" x2="363.8" y2="260.2" stroke="#9c9c9c" stroke-width="0.6" />
<text class="s en" x="361.8" y="261.3" font-size="2.8" fill="#3a3a3a">8000.0</text>
<line x1="362.4" y1="254" x2="363.8" y2="254" stroke="#9c9c9c" stroke-width="0.6" />
<text class="s en" x="361.8" y="255.1" font-size="2.8" fill="#3a3a3a">1.0e4</text>
<line x1="362.4" y1="247.8" x2="363.8" y2="247.8" stroke="#9c9c9c" stroke-width="0.6" />
<text class="s en" x="361.8" y="248.9" font-size="2.8" fill="#3a3a3a">1.2e4</text>
<line x1="362.4" y1="241.6" x2="363.8" y2="241.6" stroke="#9c9c9c" stroke-width="0.6" />
<text class="s en" x="361.8" y="242.7" font-size="2.8" fill="#3a3a3a">1.4e4</text>
<line x1="362.4" y1="235.4" x2="363.8" y2="235.4" stroke="#9c9c9c" stroke-width="0.6" />
<text class="s en" x="361.8" y="236.5" font-size="2.8" fill="#3a3a3a">1.6e4</text>
<line x1="362.4" y1="229.2" x2="363.8" y2="229.2" stroke="#9c9c9c" stroke-width="0.6" />
<text class="s en" x="361.8" y="230.3" font-size="2.8" fill="#3a3a3a">1.8e4</text>
<line x1="362.4" y1="223" x2="363.8" y2="223" stroke="#9c9c9c" stroke-width="0.6" />
<text class="s en" x="361.8" y="224.1" font-size="2.8" fill="#3a3a3a">2.0e4</text>
<line x1="367.5" y1="284.4" x2="367.5" y2="285.7" stroke="#9c9c9c" stroke-width="0.6" />
<text class="s" x="367.5" y="288.5" font-size="3.0" fill="#3a3a3a">8.5</text>
<text class="s" x="367.5" y="292.6" font-size="3.0" fill="#3a3a3a">1999</text>
<line x1="388.7" y1="284.4" x2="388.7" y2="285.7" stroke="#9c9c9c" stroke-width="0.6" />
<text class="s" x="388.7" y="288.5" font-size="3.0" fill="#3a3a3a">9.0</text>
<text class="s" x="388.7" y="292.6" font-size="3.0" fill="#3a3a3a">2116</text>
<line x1="409.9" y1="284.4" x2="409.9" y2="285.7" stroke="#9c9c9c" stroke-width="0.6" />
<text class="s" x="409.9" y="288.5" font-size="3.0" fill="#3a3a3a">9.5</text>
<text class="s" x="409.9" y="292.6" font-size="3.0" fill="#3a3a3a">2234</text>
<line x1="431.1" y1="284.4" x2="431.1" y2="285.7" stroke="#9c9c9c" stroke-width="0.6" />
<text class="s" x="431.1" y="288.5" font-size="3.0" fill="#3a3a3a">10.0</text>
<text class="s" x="431.1" y="292.6" font-size="3.0" fill="#3a3a3a">2351</text>
<line x1="452.3" y1="284.4" x2="452.3" y2="285.7" stroke="#9c9c9c" stroke-width="0.6" />
<text class="s" x="452.3" y="288.5" font-size="3.0" fill="#3a3a3a">10.5</text>
<text class="s" x="452.3" y="292.6" font-size="3.0" fill="#3a3a3a">2469</text>
<text class="s" x="411.6" y="296.2" font-size="3.0" fill="#3a3a3a">Time, min</text>
<text class="s" x="349.5" y="252.8" font-size="3.3" transform="rotate(-90 349.5 252.8)">Intensity, cps</text>
<line x1="664.1" y1="208.6" x2="664.1" y2="295.4" stroke="#e2e2e2" stroke-width="1.0" />
<path d="M546.5,209.1 H661.8 M546.5,294.4 H661.8" fill="none" stroke="#5a53ba" stroke-width="1.6" stroke-linecap="square"/>
<path d="M546.5,209.1 V294.4 M661.8,209.1 V294.4" fill="none" stroke="#5a53ba" stroke-width="1.4000000000000001"/>
<rect x="550.9" y="209.5" width="3.6" height="2.5" fill="#1a12d6" stroke="#1a12d6" stroke-width="0" />
<text class="s st" x="558" y="213.6" font-size="2.95" fill="#303030">XIC of -MRM (17 pairs): 319.100/167.200 Da ID...</text>
<text class="s en" x="660.2" y="213.6" font-size="2.95" fill="#303030">Max. 7.9e2 cps</text>
<line x1="564.7" y1="221.2" x2="564.7" y2="282.7" stroke="#9c9c9c" stroke-width="0.9" />
<line x1="564.3" y1="282.3" x2="656" y2="282.3" stroke="#9c9c9c" stroke-width="0.9" />
<line x1="563.3" y1="282.3" x2="564.7" y2="282.3" stroke="#9c9c9c" stroke-width="0.6" />
<text class="s en" x="562.7" y="283.4" font-size="3.0" fill="#3a3a3a">0</text>
<line x1="563.3" y1="275.1" x2="564.7" y2="275.1" stroke="#9c9c9c" stroke-width="0.6" />
<text class="s en" x="562.7" y="276.2" font-size="3.0" fill="#3a3a3a">100</text>
<line x1="563.3" y1="267.9" x2="564.7" y2="267.9" stroke="#9c9c9c" stroke-width="0.6" />
<text class="s en" x="562.7" y="269" font-size="3.0" fill="#3a3a3a">200</text>
<line x1="563.3" y1="260.7" x2="564.7" y2="260.7" stroke="#9c9c9c" stroke-width="0.6" />
<text class="s en" x="562.7" y="261.8" font-size="3.0" fill="#3a3a3a">300</text>
<line x1="563.3" y1="253.5" x2="564.7" y2="253.5" stroke="#9c9c9c" stroke-width="0.6" />
<text class="s en" x="562.7" y="254.6" font-size="3.0" fill="#3a3a3a">400</text>
<line x1="563.3" y1="246.3" x2="564.7" y2="246.3" stroke="#9c9c9c" stroke-width="0.6" />
<text class="s en" x="562.7" y="247.4" font-size="3.0" fill="#3a3a3a">500</text>
<line x1="563.3" y1="239.1" x2="564.7" y2="239.1" stroke="#9c9c9c" stroke-width="0.6" />
<text class="s en" x="562.7" y="240.2" font-size="3.0" fill="#3a3a3a">600</text>
<line x1="563.3" y1="231.9" x2="564.7" y2="231.9" stroke="#9c9c9c" stroke-width="0.6" />
<text class="s en" x="562.7" y="233" font-size="3.0" fill="#3a3a3a">700</text>
<line x1="563.3" y1="224.7" x2="564.7" y2="224.7" stroke="#9c9c9c" stroke-width="0.6" />
<text class="s en" x="562.7" y="225.8" font-size="3.0" fill="#3a3a3a">800</text>
<line x1="566" y1="282.3" x2="566" y2="283.6" stroke="#9c9c9c" stroke-width="0.6" />
<text class="s" x="566" y="285.3" font-size="2.8" fill="#3a3a3a">10.6</text>
<text class="s" x="566" y="289.7" font-size="2.8" fill="#3a3a3a">2492</text>
<line x1="578.8" y1="282.3" x2="578.8" y2="283.6" stroke="#9c9c9c" stroke-width="0.6" />
<text class="s" x="578.8" y="285.3" font-size="2.8" fill="#3a3a3a">10.8</text>
<text class="s" x="578.8" y="289.7" font-size="2.8" fill="#3a3a3a">2539</text>
<line x1="591.6" y1="282.3" x2="591.6" y2="283.6" stroke="#9c9c9c" stroke-width="0.6" />
<text class="s" x="591.6" y="285.3" font-size="2.8" fill="#3a3a3a">11.0</text>
<text class="s" x="591.6" y="289.7" font-size="2.8" fill="#3a3a3a">2586</text>
<line x1="604.4" y1="282.3" x2="604.4" y2="283.6" stroke="#9c9c9c" stroke-width="0.6" />
<text class="s" x="604.4" y="285.3" font-size="2.8" fill="#3a3a3a">11.2</text>
<text class="s" x="604.4" y="289.7" font-size="2.8" fill="#3a3a3a">2633</text>
<line x1="617.2" y1="282.3" x2="617.2" y2="283.6" stroke="#9c9c9c" stroke-width="0.6" />
<text class="s" x="617.2" y="285.3" font-size="2.8" fill="#3a3a3a">11.4</text>
<text class="s" x="617.2" y="289.7" font-size="2.8" fill="#3a3a3a">2680</text>
<line x1="630" y1="282.3" x2="630" y2="283.6" stroke="#9c9c9c" stroke-width="0.6" />
<text class="s" x="630" y="285.3" font-size="2.8" fill="#3a3a3a">11.6</text>
<text class="s" x="630" y="289.7" font-size="2.8" fill="#3a3a3a">2727</text>
<line x1="642.8" y1="282.3" x2="642.8" y2="283.6" stroke="#9c9c9c" stroke-width="0.6" />
<text class="s" x="642.8" y="285.3" font-size="2.8" fill="#3a3a3a">11.8</text>
<text class="s" x="642.8" y="289.7" font-size="2.8" fill="#3a3a3a">2774</text>
<line x1="655.6" y1="282.3" x2="655.6" y2="283.6" stroke="#9c9c9c" stroke-width="0.6" />
<text class="s" x="655.6" y="285.3" font-size="2.8" fill="#3a3a3a">12.0</text>
<text class="s" x="655.6" y="289.7" font-size="2.8" fill="#3a3a3a">2821</text>
<text class="s" x="612.35" y="293.3" font-size="2.8" fill="#3a3a3a">Time, min</text>
<text class="s" x="550.9" y="251.75" font-size="3.3" transform="rotate(-90 550.9 251.75)">Intensity, cps</text>
<line x1="684.9" y1="338.1" x2="684.9" y2="481.8" stroke="#ececec" stroke-width="1.0" />
<path d="M44.8,338.6 H682.5 M44.8,480.8 H682.5" fill="none" stroke="#4c44b4" stroke-width="1.9" stroke-linecap="square"/>
<path d="M44.8,338.6 V480.8 M682.5,338.6 V480.8" fill="none" stroke="#4c44b4" stroke-width="1.5999999999999999"/>
<rect x="49.4" y="338.9" width="4.6" height="3" fill="#1a12d6" stroke="#1a12d6" stroke-width="0" />
<text class="s st" x="59.2" y="343.2" font-size="4.0" fill="#2a2a2a" textLength="237" lengthAdjust="spacingAndGlyphs">XIC of -MRM (17 pairs): 519.000/355.000 Da ID: 15-HETE from Sample 45 (11-1) of Data20240301-STII Lung-LPC.wiff (Turbo Spray)</text>
<text class="s en" x="680.3" y="343.2" font-size="4.0" fill="#2a2a2a">Max. 2.1e6 cps</text>
<line x1="69.6" y1="354" x2="69.6" y2="466.1" stroke="#8a8a8a" stroke-width="0.9" />
<line x1="69.2" y1="465.7" x2="675.9" y2="465.7" stroke="#8a8a8a" stroke-width="0.9" />
<line x1="69.6" y1="465.7" x2="69.6" y2="467.3" stroke="#8a8a8a" stroke-width="0.6" />
<text class="s" x="69.6" y="470.6" font-size="3.8">0.0</text>
<text class="s" x="69.6" y="474.6" font-size="3.8">1</text>
<line x1="112.91" y1="465.7" x2="112.91" y2="467.3" stroke="#8a8a8a" stroke-width="0.6" />
<text class="s" x="112.91" y="470.6" font-size="3.8">1.0</text>
<text class="s" x="112.91" y="474.6" font-size="3.8">236</text>
<line x1="156.21" y1="465.7" x2="156.21" y2="467.3" stroke="#8a8a8a" stroke-width="0.6" />
<text class="s" x="156.21" y="470.6" font-size="3.8">2.0</text>
<text class="s" x="156.21" y="474.6" font-size="3.8">471</text>
<line x1="199.52" y1="465.7" x2="199.52" y2="467.3" stroke="#8a8a8a" stroke-width="0.6" />
<text class="s" x="199.52" y="470.6" font-size="3.8">3.0</text>
<text class="s" x="199.52" y="474.6" font-size="3.8">706</text>
<line x1="242.83" y1="465.7" x2="242.83" y2="467.3" stroke="#8a8a8a" stroke-width="0.6" />
<text class="s" x="242.83" y="470.6" font-size="3.8">4.0</text>
<text class="s" x="242.83" y="474.6" font-size="3.8">941</text>
<line x1="286.14" y1="465.7" x2="286.14" y2="467.3" stroke="#8a8a8a" stroke-width="0.6" />
<text class="s" x="286.14" y="470.6" font-size="3.8">5.0</text>
<text class="s" x="286.14" y="474.6" font-size="3.8">1176</text>
<line x1="329.44" y1="465.7" x2="329.44" y2="467.3" stroke="#8a8a8a" stroke-width="0.6" />
<text class="s" x="329.44" y="470.6" font-size="3.8">6.0</text>
<text class="s" x="329.44" y="474.6" font-size="3.8">1411</text>
<line x1="372.75" y1="465.7" x2="372.75" y2="467.3" stroke="#8a8a8a" stroke-width="0.6" />
<text class="s" x="372.75" y="470.6" font-size="3.8">7.0</text>
<text class="s" x="372.75" y="474.6" font-size="3.8">1646</text>
<line x1="416.06" y1="465.7" x2="416.06" y2="467.3" stroke="#8a8a8a" stroke-width="0.6" />
<text class="s" x="416.06" y="470.6" font-size="3.8">8.0</text>
<text class="s" x="416.06" y="474.6" font-size="3.8">1881</text>
<line x1="459.36" y1="465.7" x2="459.36" y2="467.3" stroke="#8a8a8a" stroke-width="0.6" />
<text class="s" x="459.36" y="470.6" font-size="3.8">9.0</text>
<text class="s" x="459.36" y="474.6" font-size="3.8">2116</text>
<line x1="502.67" y1="465.7" x2="502.67" y2="467.3" stroke="#8a8a8a" stroke-width="0.6" />
<text class="s" x="502.67" y="470.6" font-size="3.8">10.0</text>
<text class="s" x="502.67" y="474.6" font-size="3.8">2351</text>
<line x1="545.98" y1="465.7" x2="545.98" y2="467.3" stroke="#8a8a8a" stroke-width="0.6" />
<text class="s" x="545.98" y="470.6" font-size="3.8">11.0</text>
<text class="s" x="545.98" y="474.6" font-size="3.8">2586</text>
<line x1="589.29" y1="465.7" x2="589.29" y2="467.3" stroke="#8a8a8a" stroke-width="0.6" />
<text class="s" x="589.29" y="470.6" font-size="3.8">12.0</text>
<text class="s" x="589.29" y="474.6" font-size="3.8">2821</text>
<line x1="632.59" y1="465.7" x2="632.59" y2="467.3" stroke="#8a8a8a" stroke-width="0.6" />
<text class="s" x="632.59" y="470.6" font-size="3.8">13.0</text>
<text class="s" x="632.59" y="474.6" font-size="3.8">3056</text>
<line x1="675.9" y1="465.7" x2="675.9" y2="467.3" stroke="#8a8a8a" stroke-width="0.6" />
<text class="s" x="675.9" y="470.6" font-size="3.8">14.0</text>
<text class="s" x="675.9" y="474.6" font-size="3.8">3291</text>
<text class="s" x="372.75" y="478.8" font-size="3.8">Time, min</text>
<line x1="68" y1="465.7" x2="69.6" y2="465.7" stroke="#8a8a8a" stroke-width="0.6" />
<text class="s en" x="67.2" y="467.1" font-size="3.8">0.0</text>
<line x1="68" y1="452.35" x2="69.6" y2="452.35" stroke="#8a8a8a" stroke-width="0.6" />
<text class="s en" x="67.2" y="453.75" font-size="3.8">5.0e5</text>
<line x1="68" y1="439" x2="69.6" y2="439" stroke="#8a8a8a" stroke-width="0.6" />
<text class="s en" x="67.2" y="440.4" font-size="3.8">1.0e6</text>
<line x1="68" y1="425.65" x2="69.6" y2="425.65" stroke="#8a8a8a" stroke-width="0.6" />
<text class="s en" x="67.2" y="427.05" font-size="3.8">1.5e6</text>
<line x1="68" y1="412.3" x2="69.6" y2="412.3" stroke="#8a8a8a" stroke-width="0.6" />
<text class="s en" x="67.2" y="413.7" font-size="3.8">2.0e6</text>
<line x1="68" y1="398.95" x2="69.6" y2="398.95" stroke="#8a8a8a" stroke-width="0.6" />
<text class="s en" x="67.2" y="400.35" font-size="3.8">2.5e6</text>
<line x1="68" y1="385.6" x2="69.6" y2="385.6" stroke="#8a8a8a" stroke-width="0.6" />
<text class="s en" x="67.2" y="387" font-size="3.8">3.0e6</text>
<line x1="68" y1="372.25" x2="69.6" y2="372.25" stroke="#8a8a8a" stroke-width="0.6" />
<text class="s en" x="67.2" y="373.65" font-size="3.8">3.5e6</text>
<line x1="68" y1="358.9" x2="69.6" y2="358.9" stroke="#8a8a8a" stroke-width="0.6" />
<text class="s en" x="67.2" y="360.3" font-size="3.8">4.0e6</text>
<line x1="68" y1="354.6" x2="69.6" y2="354.6" stroke="#8a8a8a" stroke-width="0.6" />
<text class="s en" x="67.2" y="356" font-size="3.8">4.2e6</text>
<text class="s" x="49.4" y="411.85" font-size="3.8" transform="rotate(-90 49.4 411.85)">Intensity, cps</text>
<rect x="67.2" y="458.8" width="2.1" height="2.4" fill="#2a22c0" stroke="#2a22c0" stroke-width="0" />
<text class="s" x="458.8" y="457.8" font-size="3.9" fill="#000000">8.99</text>
<text class="s" x="487.6" y="401.6" font-size="3.9" fill="#000000">9.65</text>
<line x1="426.4" y1="341.2" x2="426.4" y2="429.4" stroke="#e2e2e2" stroke-width="1.0" />
<path d="M311.5,341.7 H424.1 M311.5,428.4 H424.1" fill="none" stroke="#5a53ba" stroke-width="1.6" stroke-linecap="square"/>
<path d="M311.5,341.7 V428.4 M424.1,341.7 V428.4" fill="none" stroke="#5a53ba" stroke-width="1.4000000000000001"/>
<rect x="315.9" y="342.1" width="3.6" height="2.5" fill="#1a12d6" stroke="#1a12d6" stroke-width="0" />
<text class="s st" x="323" y="346.2" font-size="2.95" fill="#303030">XIC of -MRM (17 pairs): 319.000/301.900 Da I...</text>
<text class="s en" x="422.5" y="346.2" font-size="2.95" fill="#303030">Max. 2.1e6 cps</text>
<line x1="329.7" y1="355.2" x2="329.7" y2="416.1" stroke="#9c9c9c" stroke-width="0.9" />
<line x1="329.3" y1="415.7" x2="421" y2="415.7" stroke="#9c9c9c" stroke-width="0.9" />
<line x1="328.3" y1="415.7" x2="329.7" y2="415.7" stroke="#9c9c9c" stroke-width="0.6" />
<text class="s en" x="327.7" y="416.8" font-size="2.95" fill="#3a3a3a">0.0</text>
<line x1="328.3" y1="406.15" x2="329.7" y2="406.15" stroke="#9c9c9c" stroke-width="0.6" />
<text class="s en" x="327.7" y="407.25" font-size="2.95" fill="#3a3a3a">2.0e5</text>
<line x1="328.3" y1="396.6" x2="329.7" y2="396.6" stroke="#9c9c9c" stroke-width="0.6" />
<text class="s en" x="327.7" y="397.7" font-size="2.95" fill="#3a3a3a">4.0e5</text>
<line x1="328.3" y1="387.05" x2="329.7" y2="387.05" stroke="#9c9c9c" stroke-width="0.6" />
<text class="s en" x="327.7" y="388.15" font-size="2.95" fill="#3a3a3a">6.0e5</text>
<line x1="328.3" y1="377.5" x2="329.7" y2="377.5" stroke="#9c9c9c" stroke-width="0.6" />
<text class="s en" x="327.7" y="378.6" font-size="2.95" fill="#3a3a3a">8.0e5</text>
<line x1="328.3" y1="367.95" x2="329.7" y2="367.95" stroke="#9c9c9c" stroke-width="0.6" />
<text class="s en" x="327.7" y="369.05" font-size="2.95" fill="#3a3a3a">1.0e6</text>
<line x1="328.3" y1="358.4" x2="329.7" y2="358.4" stroke="#9c9c9c" stroke-width="0.6" />
<text class="s en" x="327.7" y="359.5" font-size="2.95" fill="#3a3a3a">1.2e6</text>
<line x1="336.5" y1="415.7" x2="336.5" y2="417" stroke="#9c9c9c" stroke-width="0.6" />
<text class="s" x="336.5" y="419.9" font-size="2.95" fill="#3a3a3a">8.5</text>
<text class="s" x="336.5" y="423.5" font-size="2.95" fill="#3a3a3a">1999</text>
<line x1="356.5" y1="415.7" x2="356.5" y2="417" stroke="#9c9c9c" stroke-width="0.6" />
<text class="s" x="356.5" y="419.9" font-size="2.95" fill="#3a3a3a">9.0</text>
<text class="s" x="356.5" y="423.5" font-size="2.95" fill="#3a3a3a">2116</text>
<line x1="376.5" y1="415.7" x2="376.5" y2="417" stroke="#9c9c9c" stroke-width="0.6" />
<text class="s" x="376.5" y="419.9" font-size="2.95" fill="#3a3a3a">9.5</text>
<text class="s" x="376.5" y="423.5" font-size="2.95" fill="#3a3a3a">2234</text>
<line x1="396.5" y1="415.7" x2="396.5" y2="417" stroke="#9c9c9c" stroke-width="0.6" />
<text class="s" x="396.5" y="419.9" font-size="2.95" fill="#3a3a3a">10.0</text>
<text class="s" x="396.5" y="423.5" font-size="2.95" fill="#3a3a3a">2351</text>
<line x1="416.5" y1="415.7" x2="416.5" y2="417" stroke="#9c9c9c" stroke-width="0.6" />
<text class="s" x="416.5" y="419.9" font-size="2.95" fill="#3a3a3a">10.5</text>
<text class="s" x="416.5" y="423.5" font-size="2.95" fill="#3a3a3a">2469</text>
<text class="s" x="377.35" y="427.9" font-size="2.95" fill="#3a3a3a">Time, min</text>
<text class="s" x="315.9" y="385.45" font-size="3.3" transform="rotate(-90 315.9 385.45)">Intensity, cps</text>
<rect x="327.7" y="356.8" width="1.7" height="2" fill="#2a22c0" stroke="#2a22c0" stroke-width="0" />
<line x1="652" y1="356" x2="652" y2="438.4" stroke="#e2e2e2" stroke-width="1.0" />
<path d="M539.1,356.5 H649.7 M539.1,437.4 H649.7" fill="none" stroke="#5a53ba" stroke-width="1.6" stroke-linecap="square"/>
<path d="M539.1,356.5 V437.4 M649.7,356.5 V437.4" fill="none" stroke="#5a53ba" stroke-width="1.4000000000000001"/>
<rect x="543.5" y="356.9" width="3.6" height="2.5" fill="#1a12d6" stroke="#1a12d6" stroke-width="0" />
<text class="s st" x="550.6" y="361" font-size="2.95" fill="#303030">XIC of -MRM (17 pairs): 319.000/167.200 Da ID...</text>
<text class="s en" x="648.1" y="361" font-size="2.95" fill="#303030">Max. 7.5e2 cps</text>
<line x1="555.3" y1="367.2" x2="555.3" y2="426.1" stroke="#9c9c9c" stroke-width="0.9" />
<line x1="554.9" y1="425.7" x2="646" y2="425.7" stroke="#9c9c9c" stroke-width="0.9" />
<line x1="553.9" y1="425.7" x2="555.3" y2="425.7" stroke="#9c9c9c" stroke-width="0.6" />
<text class="s en" x="553.3" y="426.8" font-size="3.0" fill="#3a3a3a">0</text>
<line x1="553.9" y1="418.1" x2="555.3" y2="418.1" stroke="#9c9c9c" stroke-width="0.6" />
<text class="s en" x="553.3" y="419.2" font-size="3.0" fill="#3a3a3a">100</text>
<line x1="553.9" y1="410.5" x2="555.3" y2="410.5" stroke="#9c9c9c" stroke-width="0.6" />
<text class="s en" x="553.3" y="411.6" font-size="3.0" fill="#3a3a3a">200</text>
<line x1="553.9" y1="402.9" x2="555.3" y2="402.9" stroke="#9c9c9c" stroke-width="0.6" />
<text class="s en" x="553.3" y="404" font-size="3.0" fill="#3a3a3a">300</text>
<line x1="553.9" y1="395.3" x2="555.3" y2="395.3" stroke="#9c9c9c" stroke-width="0.6" />
<text class="s en" x="553.3" y="396.4" font-size="3.0" fill="#3a3a3a">400</text>
<line x1="553.9" y1="387.7" x2="555.3" y2="387.7" stroke="#9c9c9c" stroke-width="0.6" />
<text class="s en" x="553.3" y="388.8" font-size="3.0" fill="#3a3a3a">500</text>
<line x1="553.9" y1="380.1" x2="555.3" y2="380.1" stroke="#9c9c9c" stroke-width="0.6" />
<text class="s en" x="553.3" y="381.2" font-size="3.0" fill="#3a3a3a">600</text>
<line x1="553.9" y1="372.5" x2="555.3" y2="372.5" stroke="#9c9c9c" stroke-width="0.6" />
<text class="s en" x="553.3" y="373.6" font-size="3.0" fill="#3a3a3a">700</text>
<line x1="553.9" y1="368" x2="555.3" y2="368" stroke="#9c9c9c" stroke-width="0.6" />
<text class="s en" x="553.3" y="369.1" font-size="3.0" fill="#3a3a3a">748</text>
<line x1="557" y1="425.7" x2="557" y2="427" stroke="#9c9c9c" stroke-width="0.6" />
<text class="s" x="557" y="429.4" font-size="2.7" fill="#3a3a3a">10.6</text>
<text class="s" x="557" y="432.8" font-size="2.7" fill="#3a3a3a">2492</text>
<line x1="569.6" y1="425.7" x2="569.6" y2="427" stroke="#9c9c9c" stroke-width="0.6" />
<text class="s" x="569.6" y="429.4" font-size="2.7" fill="#3a3a3a">10.8</text>
<text class="s" x="569.6" y="432.8" font-size="2.7" fill="#3a3a3a">2539</text>
<line x1="582.2" y1="425.7" x2="582.2" y2="427" stroke="#9c9c9c" stroke-width="0.6" />
<text class="s" x="582.2" y="429.4" font-size="2.7" fill="#3a3a3a">11.0</text>
<text class="s" x="582.2" y="432.8" font-size="2.7" fill="#3a3a3a">2586</text>
<line x1="594.8" y1="425.7" x2="594.8" y2="427" stroke="#9c9c9c" stroke-width="0.6" />
<text class="s" x="594.8" y="429.4" font-size="2.7" fill="#3a3a3a">11.2</text>
<text class="s" x="594.8" y="432.8" font-size="2.7" fill="#3a3a3a">2633</text>
<line x1="607.4" y1="425.7" x2="607.4" y2="427" stroke="#9c9c9c" stroke-width="0.6" />
<text class="s" x="607.4" y="429.4" font-size="2.7" fill="#3a3a3a">11.4</text>
<text class="s" x="607.4" y="432.8" font-size="2.7" fill="#3a3a3a">2680</text>
<line x1="620" y1="425.7" x2="620" y2="427" stroke="#9c9c9c" stroke-width="0.6" />
<text class="s" x="620" y="429.4" font-size="2.7" fill="#3a3a3a">11.6</text>
<text class="s" x="620" y="432.8" font-size="2.7" fill="#3a3a3a">2727</text>
<line x1="632.6" y1="425.7" x2="632.6" y2="427" stroke="#9c9c9c" stroke-width="0.6" />
<text class="s" x="632.6" y="429.4" font-size="2.7" fill="#3a3a3a">11.8</text>
<text class="s" x="632.6" y="432.8" font-size="2.7" fill="#3a3a3a">2774</text>
<line x1="645.2" y1="425.7" x2="645.2" y2="427" stroke="#9c9c9c" stroke-width="0.6" />
<text class="s" x="645.2" y="429.4" font-size="2.7" fill="#3a3a3a">12.0</text>
<text class="s" x="645.2" y="432.8" font-size="2.7" fill="#3a3a3a">2821</text>
<text class="s" x="602.65" y="436.8" font-size="2.7" fill="#3a3a3a">Time, min</text>
<text class="s" x="543.5" y="396.45" font-size="3.3" transform="rotate(-90 543.5 396.45)">Intensity, cps</text>
<rect x="553.3" y="367.2" width="1.7" height="2" fill="#2a22c0" stroke="#2a22c0" stroke-width="0" />
<text class="b" x="166.3" y="59.9" font-size="14.6" transform="translate(166.3 0) scale(0.86 1) translate(-166.3 0)">1</text>
<text class="b" x="200.5" y="130.1" font-size="14.6">2</text>
<text class="b" x="443.4" y="103.2" font-size="14.6">3</text>
<text class="b" x="478.2" y="144.9" font-size="14.6">4</text>
<text class="b" x="517.5" y="69" font-size="14.6">5</text>
<text class="b" x="534.3" y="112.3" font-size="14.6">6</text>
<text class="b" x="554.7" y="134.7" font-size="14.6">7</text>
<text class="b" x="574.4" y="134.7" font-size="14.6">8</text>
<text class="b" x="251" y="257.7" font-size="14.6" transform="translate(251 0) scale(0.86 1) translate(-251 0)">1</text>
<text class="b" x="288.9" y="270.4" font-size="14.6">2</text>
<text class="b" x="379.3" y="259" font-size="14.6">3</text>
<text class="b" x="399.9" y="274.5" font-size="14.6">4</text>
<text class="b" x="443.2" y="259" font-size="14.6">5</text>
<text class="b" x="569" y="269.9" font-size="14.6">6</text>
<text class="b" x="596.4" y="242.7" font-size="14.6">7</text>
<text class="b" x="627.1" y="256.2" font-size="14.6">8</text>
<rect x="166.6" y="306.2" width="30" height="17.4" fill="none" stroke="#d02424" stroke-width="1.5" stroke-dasharray="3.8 1.3"/>
<rect x="435.6" y="306.8" width="90.4" height="21.4" fill="none" stroke="#d02424" stroke-width="1.5" stroke-dasharray="3.8 1.3"/>
<rect x="530.4" y="308.3" width="70.2" height="19.9" fill="none" stroke="#d02424" stroke-width="1.5" stroke-dasharray="3.8 1.3"/>
<line x1="181" y1="312.5" x2="212.05" y2="294.77" stroke="#d22428" stroke-width="1.45" stroke-linecap="round"/>
<polygon points="219,290.8 213.17,298.74 209.2,291.79" fill="#d22428"/>
<line x1="469.9" y1="312.1" x2="443.29" y2="294.68" stroke="#d22428" stroke-width="1.45" stroke-linecap="round"/>
<polygon points="436.6,290.3 446.32,291.88 441.94,298.58" fill="#d22428"/>
<line x1="557.9" y1="312.3" x2="577.66" y2="297.08" stroke="#d22428" stroke-width="1.45" stroke-linecap="round"/>
<polygon points="584,292.2 579.31,300.86 574.43,294.52" fill="#d22428"/>
<text class="b" x="167.5" y="365.1" font-size="14.6" transform="translate(167.5 0) scale(0.86 1) translate(-167.5 0)">1</text>
<text class="b" x="199.9" y="458.5" font-size="14.6">2</text>
<text class="b" x="344.9" y="375" font-size="14.6">3</text>
<text class="b" x="366.5" y="398.4" font-size="14.6">4</text>
<text class="b" x="410.1" y="409.3" font-size="14.6">5</text>
<text class="b" x="568.7" y="411.5" font-size="14.6">6</text>
<text class="b" x="588.3" y="385.4" font-size="14.6">7</text>
<text class="b" x="623.7" y="385.4" font-size="14.6">8</text>
<rect x="435.6" y="450.3" width="94.7" height="26" fill="none" stroke="#d02424" stroke-width="1.5" stroke-dasharray="3.8 1.3"/>
<rect x="534.6" y="453.2" width="65.8" height="22.8" fill="none" stroke="#d02424" stroke-width="1.5" stroke-dasharray="3.8 1.3"/>
<line x1="443.6" y1="452.6" x2="415.62" y2="428.07" stroke="#d22428" stroke-width="1.45" stroke-linecap="round"/>
<polygon points="409.6,422.8 419,425.72 413.73,431.74" fill="#d22428"/>
<line x1="563" y1="459.8" x2="575" y2="440.95" stroke="#d22428" stroke-width="1.45" stroke-linecap="round"/>
<polygon points="579.3,434.2 577.84,443.94 571.09,439.64" fill="#d22428"/>
<text class="b" x="24.1" y="39.1" font-size="25.6" transform="translate(24.1 0) scale(0.93 1) translate(-24.1 0)" style="stroke-width:0.1px">A</text>
<text class="b" x="21.9" y="210.1" font-size="25.6" transform="translate(21.9 0) scale(0.93 1) translate(-21.9 0)" style="stroke-width:0.1px">B</text>
<text class="b" x="20" y="360.6" font-size="25.6"  style="stroke-width:0.1px">C</text>
</g>
</svg>
</body></html>
